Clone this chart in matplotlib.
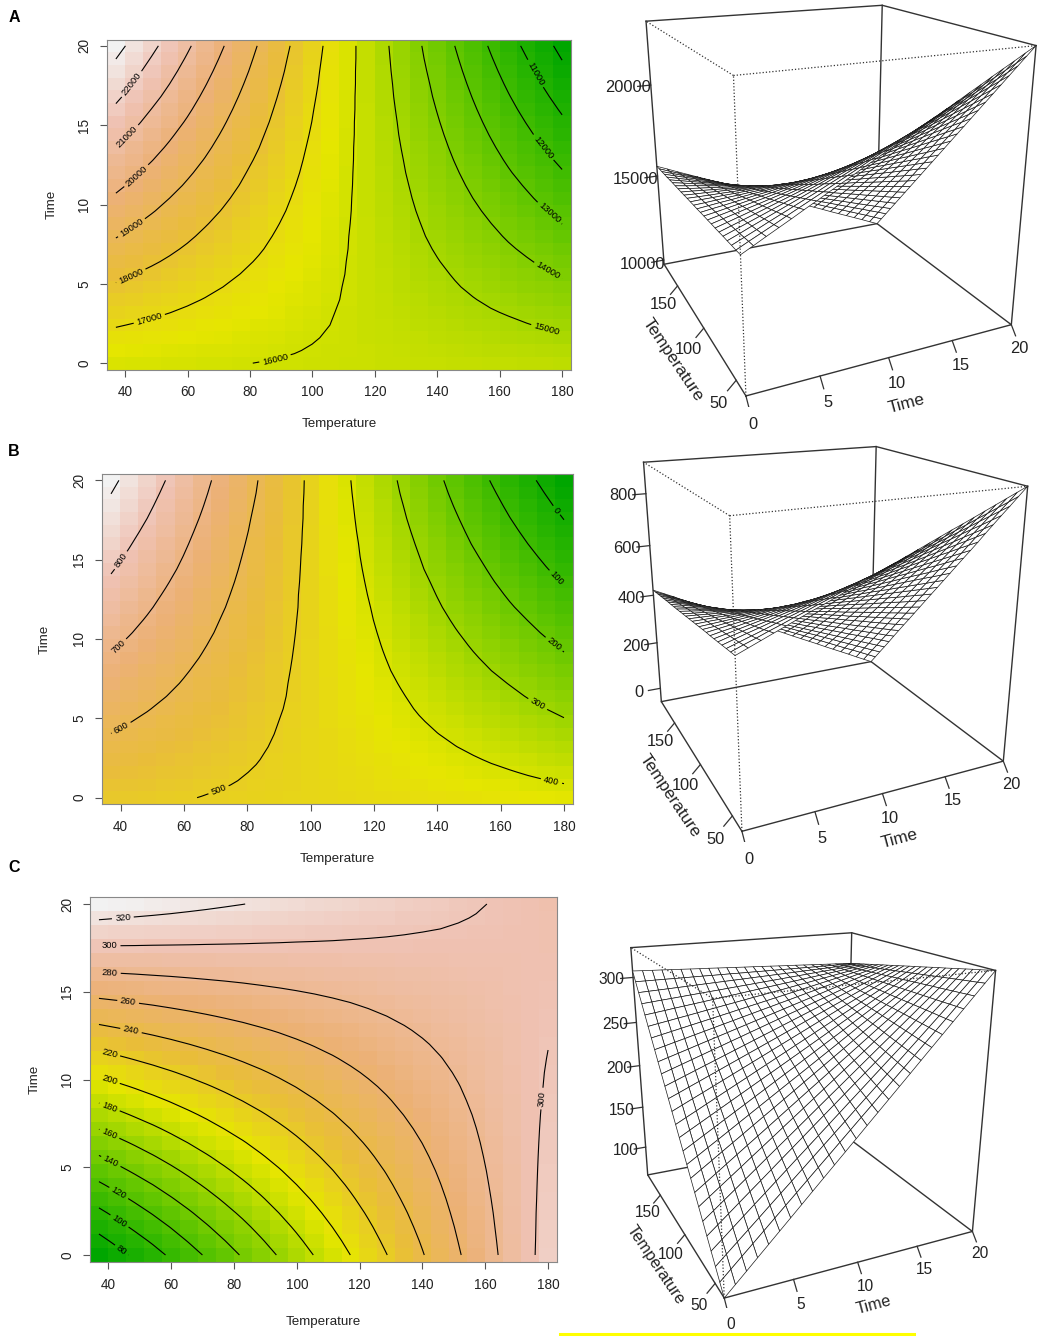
import numpy as np
import matplotlib
matplotlib.use('Agg')
import matplotlib.pyplot as plt
from matplotlib.colors import LinearSegmentedColormap
from matplotlib.lines import Line2D
from mpl_toolkits.mplot3d import proj3d

plt.rcParams['font.family'] = ['Liberation Sans', 'DejaVu Sans']

# grid of the fitted surfaces
temp_grid = [37.0, 42.7, 48.4, 54.2, 59.9, 65.6, 71.3, 77.0, 82.8, 88.5, 94.2, 99.9, 105.6,
             111.4, 117.1, 122.8, 128.5, 134.2, 140.0, 145.7, 151.4, 157.1, 162.8, 168.6, 174.3, 180.0]
time_grid = [0.0, 0.8, 1.6, 2.4, 3.2, 4.0, 4.8, 5.6, 6.4, 7.2, 8.0, 8.8, 9.6,
             10.4, 11.2, 12.0, 12.8, 13.6, 14.4, 15.2, 16.0, 16.8, 17.6, 18.4, 19.2, 20.0]

# panel A, in tens (rows = time, columns = temperature)
a_tens = [
    [1620,1617,1615,1612,1610,1607,1604,1602,1599,1597,1594,1591,1589,1586,1584,1581,1578,1576,1573,1571,1568,1565,1563,1560,1558,1555],
    [1648,1644,1639,1634,1630,1625,1620,1616,1611,1606,1602,1597,1592,1588,1583,1578,1574,1569,1564,1560,1555,1550,1546,1541,1536,1532],
    [1677,1670,1663,1657,1650,1643,1636,1630,1623,1616,1609,1603,1596,1589,1582,1576,1569,1562,1556,1549,1542,1535,1529,1522,1515,1508],
    [1705,1696,1688,1679,1670,1661,1652,1644,1635,1626,1617,1608,1600,1591,1582,1573,1564,1556,1547,1538,1529,1520,1512,1503,1494,1485],
    [1733,1723,1712,1701,1690,1679,1668,1657,1647,1636,1625,1614,1603,1592,1581,1571,1560,1549,1538,1527,1516,1505,1495,1484,1473,1462],
    [1762,1749,1736,1723,1710,1697,1684,1671,1658,1646,1633,1620,1607,1594,1581,1568,1555,1542,1529,1516,1503,1490,1477,1465,1452,1439],
    [1790,1775,1760,1745,1730,1715,1700,1685,1670,1655,1640,1625,1610,1595,1580,1565,1550,1535,1520,1505,1490,1475,1460,1445,1431,1416],
    [1819,1801,1784,1767,1750,1733,1716,1699,1682,1665,1648,1631,1614,1597,1580,1563,1546,1529,1512,1495,1478,1461,1444,1426,1409,1392],
    [1847,1828,1809,1790,1770,1751,1732,1713,1694,1675,1656,1637,1618,1598,1579,1560,1541,1522,1503,1484,1465,1446,1426,1407,1388,1369],
    [1875,1854,1833,1812,1791,1769,1748,1727,1706,1685,1664,1642,1621,1600,1579,1558,1536,1515,1494,1473,1452,1431,1409,1388,1367,1346],
    [1904,1880,1857,1834,1811,1787,1764,1741,1718,1694,1671,1648,1625,1601,1578,1555,1532,1508,1485,1462,1439,1416,1392,1369,1346,1323],
    [1932,1907,1881,1856,1831,1805,1780,1755,1729,1704,1679,1654,1628,1603,1578,1552,1527,1502,1476,1451,1426,1401,1375,1350,1325,1299],
    [1960,1933,1906,1878,1851,1824,1796,1769,1741,1714,1687,1659,1632,1605,1577,1550,1522,1495,1468,1440,1413,1386,1358,1331,1303,1276],
    [1989,1959,1930,1900,1871,1841,1812,1783,1753,1724,1694,1665,1635,1606,1577,1547,1518,1488,1459,1429,1400,1371,1341,1312,1282,1253],
    [2017,1986,1954,1923,1891,1860,1828,1797,1765,1734,1702,1671,1639,1608,1576,1545,1513,1482,1450,1419,1387,1356,1324,1293,1261,1230],
    [2045,2012,1978,1945,1911,1878,1844,1810,1777,1743,1710,1676,1643,1609,1576,1542,1508,1475,1441,1408,1374,1341,1307,1273,1240,1206],
    [2074,2038,2003,1967,1931,1896,1860,1824,1789,1753,1717,1682,1646,1611,1575,1539,1504,1468,1432,1397,1361,1326,1290,1254,1219,1183],
    [2102,2064,2027,1989,1951,1914,1876,1838,1801,1763,1725,1687,1650,1612,1574,1537,1499,1461,1424,1386,1348,1311,1273,1235,1198,1160],
    [2130,2091,2051,2011,1971,1932,1892,1852,1812,1773,1733,1693,1653,1614,1574,1534,1494,1455,1415,1375,1335,1296,1256,1216,1176,1137],
    [2159,2117,2075,2033,1992,1950,1908,1866,1824,1783,1741,1699,1657,1615,1573,1532,1490,1448,1406,1364,1323,1281,1239,1197,1155,1113],
    [2187,2143,2099,2056,2012,1968,1924,1880,1836,1792,1748,1704,1661,1617,1573,1529,1485,1441,1397,1353,1310,1266,1222,1178,1134,1090],
    [2216,2170,2124,2078,2032,1986,1940,1894,1848,1802,1756,1710,1664,1618,1572,1526,1480,1434,1388,1343,1297,1251,1205,1159,1113,1067],
    [2244,2196,2148,2100,2052,2004,1956,1908,1860,1812,1764,1716,1668,1620,1572,1524,1476,1428,1380,1332,1284,1236,1188,1140,1092,1044],
    [2272,2222,2172,2122,2072,2022,1972,1922,1872,1822,1772,1721,1671,1621,1571,1521,1471,1421,1371,1321,1271,1221,1171,1121,1071,1021],
    [2301,2248,2196,2144,2092,2040,1988,1936,1883,1831,1779,1727,1675,1623,1571,1519,1466,1414,1362,1310,1258,1206,1154,1102,1049,997],
    [2329,2275,2221,2166,2112,2058,2004,1950,1895,1841,1787,1733,1679,1624,1570,1516,1462,1408,1353,1299,1245,1191,1137,1082,1028,974],
]

# panel B
b_vals = [
    [519,515,511,507,503,499,495,492,488,484,480,476,472,468,464,460,456,452,448,445,441,437,433,429,425,421],
    [535,530,524,519,514,508,503,498,492,487,482,476,471,466,460,455,450,444,439,434,428,423,418,412,407,402],
    [551,544,537,531,524,517,510,504,497,490,483,477,470,463,457,450,443,436,430,423,416,409,403,396,389,383],
    [567,559,550,542,534,526,518,510,502,493,485,477,469,461,453,445,437,428,420,412,404,396,388,380,371,363],
    [583,573,564,554,544,535,525,516,506,497,487,478,468,459,449,439,430,420,411,401,392,382,373,363,354,344],
    [599,588,577,566,555,544,533,522,511,500,489,478,467,456,445,434,423,412,401,391,380,369,358,347,336,325],
    [615,602,590,577,565,553,540,528,516,503,491,479,466,454,442,429,417,404,392,380,367,355,343,330,318,306],
    [630,617,603,589,575,562,548,534,520,507,493,479,465,451,438,424,410,396,383,369,355,341,328,314,300,286],
    [646,631,616,601,586,570,555,540,525,510,495,479,464,449,434,419,404,388,373,358,343,328,313,297,282,267],
    [662,646,629,613,596,579,563,546,530,513,496,480,463,447,430,414,397,380,364,347,331,314,298,281,264,248],
    [678,660,642,624,606,588,570,552,534,516,498,480,462,444,426,408,390,372,354,336,318,300,282,264,247,229],
    [694,675,655,636,617,597,578,558,539,520,500,481,461,442,423,403,384,364,345,326,306,287,268,248,229,209],
    [710,689,668,648,627,606,585,564,544,523,502,481,460,440,419,398,377,356,336,315,294,273,253,232,211,190],
    [726,704,682,659,637,615,593,571,548,526,504,482,460,437,415,393,371,348,326,304,282,260,237,215,193,171],
    [742,718,695,671,647,624,600,577,553,529,506,482,459,435,411,388,364,341,317,293,270,246,222,199,175,152],
    [758,733,708,683,658,633,608,583,558,533,508,483,458,433,408,383,358,333,307,282,257,232,207,182,157,132],
    [774,747,721,694,668,642,615,589,562,536,509,483,457,430,404,377,351,325,298,272,245,219,192,166,140,113],
    [790,762,734,706,678,650,623,595,567,539,511,484,456,428,400,372,344,317,289,261,233,205,177,150,122,94],
    [806,776,747,718,689,659,630,601,572,542,513,484,455,425,396,367,338,308,279,250,221,192,162,133,104,75],
    [821,791,760,730,699,668,638,607,576,546,515,484,454,423,392,362,331,301,270,239,209,178,147,117,86,55],
    [837,805,773,741,709,677,645,613,581,549,517,485,453,421,389,357,325,293,261,228,196,164,132,100,68,36],
    [853,820,786,753,719,686,653,619,586,552,519,485,452,418,385,352,318,285,251,218,184,151,117,84,50,17],
    [869,834,800,765,730,695,660,625,590,555,521,486,451,416,381,346,311,277,242,207,172,137,102,67,33,-2],
    [885,849,813,776,740,704,668,631,595,559,522,486,450,414,377,341,305,269,232,196,160,124,87,51,15,-22],
    [901,863,826,788,750,713,675,637,600,562,524,487,449,411,374,336,298,261,223,185,147,110,72,34,-3,-41],
    [917,878,839,800,761,722,682,643,604,565,526,487,448,409,370,331,292,253,214,175,136,96,57,18,-21,-60],
]

# panel C, in tenths
c_tenths = [
    [640,737,834,932,1029,1126,1223,1320,1418,1515,1612,1709,1806,1904,2001,2098,2195,2292,2390,2487,2584,2681,2778,2876,2973,3070],
    [747,840,933,1025,1118,1211,1304,1396,1489,1582,1674,1767,1860,1953,2045,2138,2231,2323,2416,2509,2602,2694,2787,2880,2972,3065],
    [854,943,1031,1119,1207,1296,1384,1472,1560,1649,1737,1825,1913,2002,2090,2178,2266,2354,2443,2531,2619,2707,2796,2884,2972,3060],
    [962,1045,1129,1213,1297,1380,1464,1548,1632,1715,1799,1883,1967,2050,2134,2218,2302,2385,2469,2553,2637,2721,2804,2888,2972,3056],
    [1069,1148,1227,1307,1386,1465,1544,1624,1703,1782,1862,1941,2020,2099,2179,2258,2337,2417,2496,2575,2654,2734,2813,2892,2971,3051],
    [1176,1251,1326,1400,1475,1550,1625,1700,1774,1849,1924,1999,2074,2148,2223,2298,2373,2448,2522,2597,2672,2747,2822,2896,2971,3046],
    [1283,1354,1424,1494,1564,1635,1705,1775,1846,1916,1986,2057,2127,2197,2268,2338,2408,2479,2549,2619,2690,2760,2830,2901,2971,3041],
    [1390,1456,1522,1588,1654,1720,1785,1851,1917,1983,2049,2115,2180,2246,2312,2378,2444,2510,2576,2641,2707,2773,2839,2905,2971,3036],
    [1498,1559,1620,1682,1743,1804,1866,1927,1988,2050,2111,2173,2234,2295,2357,2418,2479,2541,2602,2663,2725,2786,2847,2909,2970,3032],
    [1605,1662,1719,1775,1832,1889,1946,2003,2060,2117,2174,2230,2287,2344,2401,2458,2515,2572,2629,2686,2742,2799,2856,2913,2970,3027],
    [1712,1764,1817,1869,1922,1974,2026,2079,2131,2184,2236,2288,2341,2393,2446,2498,2550,2603,2655,2708,2760,2812,2865,2917,2970,3022],
    [1819,1867,1915,1963,2011,2059,2107,2155,2203,2250,2298,2346,2394,2442,2490,2538,2586,2634,2682,2730,2778,2826,2873,2921,2969,3017],
    [1926,1970,2013,2057,2100,2144,2187,2230,2274,2317,2361,2404,2448,2491,2535,2578,2621,2665,2708,2752,2795,2839,2882,2926,2969,3012],
    [2034,2073,2112,2151,2189,2228,2267,2306,2345,2384,2423,2462,2501,2540,2579,2618,2657,2696,2735,2774,2813,2852,2891,2930,2969,3008],
    [2141,2175,2210,2244,2279,2313,2348,2382,2417,2451,2486,2520,2555,2589,2624,2658,2692,2727,2761,2796,2830,2865,2899,2934,2968,3003],
    [2248,2278,2308,2338,2368,2398,2428,2458,2488,2518,2548,2578,2608,2638,2668,2698,2728,2758,2788,2818,2848,2878,2908,2938,2968,2998],
    [2355,2381,2406,2432,2457,2483,2508,2534,2559,2585,2610,2636,2661,2687,2712,2738,2764,2789,2815,2840,2866,2891,2917,2942,2968,2993],
    [2462,2483,2504,2526,2547,2568,2589,2610,2631,2652,2673,2694,2715,2736,2757,2778,2799,2820,2841,2862,2883,2904,2925,2946,2967,2988],
    [2570,2586,2603,2619,2636,2652,2669,2686,2702,2719,2735,2752,2768,2785,2801,2818,2835,2851,2868,2884,2901,2917,2934,2951,2967,2984],
    [2677,2689,2701,2713,2725,2737,2749,2761,2773,2786,2798,2810,2822,2834,2846,2858,2870,2882,2894,2906,2918,2930,2943,2955,2967,2979],
    [2784,2792,2799,2807,2814,2822,2830,2837,2845,2852,2860,2868,2875,2883,2890,2898,2906,2913,2921,2928,2936,2944,2951,2959,2966,2974],
    [2891,2894,2897,2901,2904,2907,2910,2913,2916,2919,2922,2926,2929,2932,2935,2938,2941,2944,2947,2950,2954,2957,2960,2963,2966,2969],
    [2998,2997,2996,2994,2993,2992,2990,2989,2988,2986,2985,2983,2982,2981,2979,2978,2977,2975,2974,2973,2971,2970,2969,2967,2966,2964],
    [3106,3100,3094,3088,3082,3076,3071,3065,3059,3053,3047,3041,3036,3030,3024,3018,3012,3006,3000,2995,2989,2983,2977,2971,2965,2960],
    [3213,3202,3192,3182,3172,3161,3151,3141,3130,3120,3110,3099,3089,3079,3068,3058,3048,3037,3027,3017,3006,2996,2986,2976,2965,2955],
    [3320,3305,3290,3276,3261,3246,3231,3216,3202,3187,3172,3157,3142,3128,3113,3098,3083,3068,3054,3039,3024,3009,2994,2980,2965,2950],
]

a_levels = [10000, 11000, 12000, 13000, 14000, 15000, 16000, 17000, 18000, 19000, 20000, 21000, 22000, 23000]
b_levels = [0, 100, 200, 300, 400, 500, 600, 700, 800, 900]
c_levels = [80, 100, 120, 140, 160, 180, 200, 220, 240, 260, 280, 300, 320]

# where the contour labels sit (temperature, time)
a_labels = [(171.4, 18.25), (174, 13.6), (175.7, 9.4), (175.4, 5.8), (175, 2.1), (87.9, 0.4), (47.7, 2.8),
            (41.8, 5.5), (41.8, 8.6), (43.6, 11.8), (40.7, 14.25), (42, 17.6)]
b_labels = [(40.2, 14.95), (39.4, 9.5), (40.2, 4.4), (71.3, 0.3), (176.2, 1.2), (172, 6), (177, 9.7),
            (177.6, 13.8), (177.6, 18.1)]
c_labels = [(44.7, 19), (40.4, 17.4), (40.4, 15.9), (46.2, 14.3), (47.1, 12.7), (40.2, 11.4), (40.2, 9.9),
            (40.2, 8.35), (40.2, 6.85), (40.7, 5.3), (43.2, 3.5), (43.4, 1.9), (44.3, 0.3), (178.9, 8.9)]

temp_ticks = [40, 60, 80, 100, 120, 140, 160, 180]
time_ticks = [0, 5, 10, 15, 20]
temp_ticks_3d = [50, 100, 150]
a_zticks = [10000, 15000, 20000]
b_zticks = [0, 200, 400, 600, 800]
c_zticks = [100, 150, 200, 250, 300]

terrain = ['#00A600', '#2DB600', '#63C600', '#A0D600', '#E6E600', '#E9BD3A', '#ECB176', '#EFC2B3', '#F2F2F2']
cmap = LinearSegmentedColormap.from_list('terrain_r', terrain)

W, H = 1041, 1339
fig = plt.figure(figsize=(W / 100, H / 100), dpi=100)


def heat_panel(z, levels, labels, left, top, right, bottom, xlab_y, ylab_x):
    ax = fig.add_axes([left / W, 1 - bottom / H, (right - left) / W, (bottom - top) / H])
    ax.pcolormesh(temp_grid, time_grid, z, shading='nearest', cmap=cmap, vmin=z.min(), vmax=z.max())
    cs = ax.contour(temp_grid, time_grid, z, levels=levels, colors='k', linewidths=0.8)
    ax.clabel(cs, fmt='%d', fontsize=6.8, inline=True, inline_spacing=3, manual=labels)
    ax.set_xticks(temp_ticks)
    ax.set_yticks(time_ticks)
    ax.tick_params(length=5, width=0.8, color='#555555', labelsize=9.8, labelcolor='#222222', pad=6.5)
    plt.setp(ax.get_yticklabels(), rotation=90, va='center')
    for s in ax.spines.values():
        s.set_color('#888888')
        s.set_linewidth(0.8)
    fig.text((left + right) / 2 / W, 1 - xlab_y / H, 'Temperature', ha='center', va='center', fontsize=9.6, color='#222222')
    fig.text(ylab_x / W, 1 - (top + bottom) / 2 / H, 'Time', ha='center', va='center', rotation=90, fontsize=9.6, color='#222222')
    return ax


def persp_panel(z, zticks, left, bottom, size, fs):
    ax = fig.add_axes([left / W, 1 - bottom / H, size / W, size / H], projection='3d', computed_zorder=False)
    ax.patch.set_visible(False)
    ax.set_axis_off()
    ax.set_box_aspect((1, 1, 1))
    ax.set_proj_type('persp', focal_length=0.32)
    ax.view_init(elev=19.5, azim=-115)
    t0, t1, T0, T1 = time_grid[0], time_grid[-1], temp_grid[0], temp_grid[-1]
    z0, z1 = z.min(), z.max()
    zr = z1 - z0
    solid = dict(color='#333333', lw=1.0, zorder=1)
    dots = dict(color='#333333', lw=0.9, ls=(0, (1, 1.6)), zorder=5)
    # edges behind the surface
    ax.plot([t0, t1, t1, t0, t0], [T0, T0, T1, T1, T0], [z0, z0, z0, z0, z0], **solid)
    ax.plot([t0, t1, t1], [T1, T1, T0], [z1, z1, z1], **solid)
    ax.plot([t0, t0], [T1, T1], [z0, z1], **solid)
    ax.plot([t1, t1], [T1, T1], [z0, z1], **solid)
    ax.plot([t1, t1], [T0, T0], [z0, z1], **solid)
    tt, TT = np.meshgrid(time_grid, temp_grid, indexing='ij')
    ax.plot_surface(tt, TT, z, rstride=1, cstride=1, color='white', edgecolor='#1a1a1a', linewidth=0.5,
                    shade=False, zorder=3)
    # front edges are dotted
    ax.plot([t0, t0], [T0, T0], [z0, z1], **dots)
    ax.plot([t0, t0], [T0, T1], [z1, z1], **dots)
    ax.plot([t0, t1], [T0, T0], [z1, z1], **dots)
    tc = '#222222'
    for v in zticks:
        ax.plot([t0, t0 - 1], [T1, T1], [v, v], color='#333333', lw=0.9, zorder=6)
        ax.text(t0 - 1.75, T1, v, str(v), ha='center', va='center', fontsize=fs, color=tc, zorder=7)
    for v in time_ticks:
        ax.plot([v, v], [T0, T0 - 4], [z0, z0 - 0.03 * zr], color='#333333', lw=0.9, zorder=6)
        ax.text(v, T0 - 8, z0 - 0.065 * zr, str(v), ha='center', va='center', fontsize=fs, color=tc, zorder=7)
    for v in temp_ticks_3d:
        ax.plot([t0, t0 - 0.6], [v, v], [z0, z0 - 0.03 * zr], color='#333333', lw=0.9, zorder=6)
        ax.text(t0 - 1.2, v, z0 - 0.07 * zr, str(v), ha='center', va='center', fontsize=fs, color=tc, zorder=7)
    ax.set_xlim(t0, t1, view_margin=0)
    ax.set_ylim(T0, T1, view_margin=0)
    ax.set_zlim(z0, z1, view_margin=0)
    # rotated axis names need flat text, so project their anchor first
    M = ax.get_proj()
    px, py, _ = proj3d.proj_transform(t0 - 2.1, 108, z0 - 0.135 * zr, M)
    ax.text2D(px, py, 'Temperature', transform=ax.transData, rotation=-56, ha='center', va='center',
              fontsize=fs + 0.5, color=tc, zorder=7)
    px, py, _ = proj3d.proj_transform(10.8, T0 - 8, z0 - 0.155 * zr, M)
    ax.text2D(px, py, 'Time', transform=ax.transData, rotation=15, ha='center', va='center',
              fontsize=fs + 0.5, color=tc, zorder=7)
    return ax


a_z = np.array(a_tens) * 10
b_z = np.array(b_vals)
c_z = np.array(c_tenths) / 10

heat_panel(a_z, a_levels, a_labels, 107, 39.5, 571, 369.5, 424, 52)
heat_panel(b_z, b_levels, b_labels, 102, 474, 573, 804, 859, 45)
heat_panel(c_z, c_levels, c_labels, 90, 897, 557, 1262, 1322, 35)

persp_panel(a_z, a_zticks, 587.6, 407, 462, 11.8)
persp_panel(b_z, b_zticks, 586, 842.2, 455, 11.8)
persp_panel(c_z, c_zticks, 576.2, 1308.4, 432, 11.2)

for letter, y in zip('ABC', [17, 451, 868]):
    fig.text(14 / W, 1 - y / H, letter, ha='center', va='center', fontsize=11.5, fontweight='bold', color='k')

# yellow rule under the last panel
fig.add_artist(Line2D([560 / W, 914 / W], [1 - 1334 / H, 1 - 1334 / H], color='#FFFF00', lw=2.2))

fig.savefig('out.png', dpi=100)
